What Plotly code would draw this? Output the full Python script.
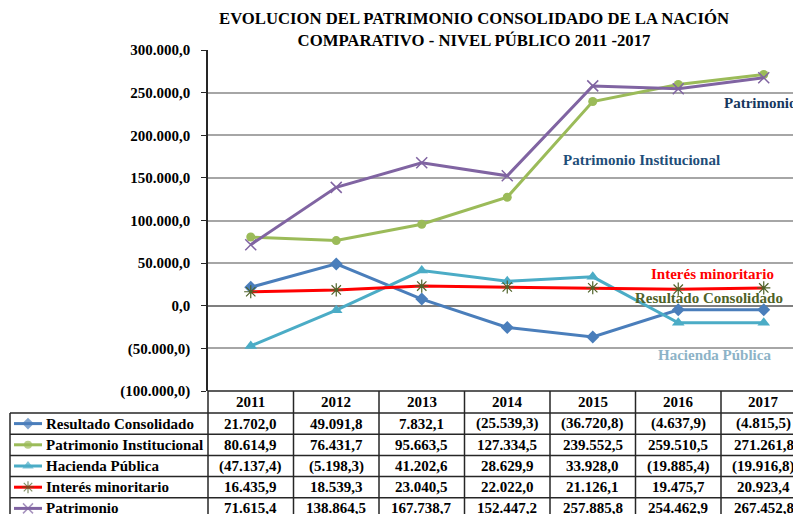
import plotly.graph_objects as go

years = ["2011", "2012", "2013", "2014", "2015", "2016", "2017"]
resultado = [21702.0, 49091.8, 7832.1, -25539.3, -36720.8, -4637.9, -4815.5]
institucional = [80614.9, 76431.7, 95663.5, 127334.5, 239552.5, 259510.5, 271261.8]
hacienda = [-47137.4, -5198.3, 41202.6, 28629.9, 33928.0, -19885.4, -19916.8]
interes = [16435.9, 18539.3, 23040.5, 22022.0, 21126.1, 19475.7, 20923.4]
patrimonio = [71615.4, 138864.5, 167738.7, 152447.2, 257885.8, 254462.9, 267452.8]
series_names = ["Resultado Consolidado", "Patrimonio Institucional", "Hacienda Pública",
                "Interés minoritario", "Patrimonio"]
y_ticks = [-100000, -50000, 0, 50000, 100000, 150000, 200000, 250000, 300000]

def fmt(v):
    s = f"{abs(v):,.1f}".replace(",", "#").replace(".", ",").replace("#", ".")
    return f"({s})" if v < 0 else s

# page geometry (the page body has an 8px margin; figure fills the rest of the 801x514 view)
VW, VH, OFF = 801, 514, 8
FW, FH = VW - OFF, VH - OFF
L, T, B = 208, 50, 391          # plot area in view pixels
COLW = 85.5
FONT = "Liberation Serif, Times New Roman, serif"

styles = [
    dict(color="#4A7EBB", symbol="diamond", size=10, mc="#4A7EBB", lw=0),
    dict(color="#9BBB59", symbol="circle", size=9, mc="#9BBB59", lw=0),
    dict(color="#4BACC6", symbol="triangle-up", size=11, mc="#4BACC6", lw=0),
    dict(color="#FF0000", symbol="asterisk", size=11, mc="#4F6228", lw=1.2),
    dict(color="#8064A2", symbol="x-thin", size=11, mc="#8064A2", lw=1.5),
]
data = [resultado, institucional, hacienda, interes, patrimonio]
xs = list(range(len(years)))

fig = go.Figure()
for name, vals, st in zip(series_names, data, styles):
    fig.add_trace(go.Scatter(
        x=xs, y=vals, name=name, mode="lines+markers",
        line=dict(color=st["color"], width=3),
        marker=dict(symbol=st["symbol"], size=st["size"], color=st["mc"],
                    line=dict(color=st["mc"], width=st["lw"])),
        xaxis="x", yaxis="y", showlegend=False, cliponaxis=False))

row_tops = [413, 434.2, 455.4, 476.6, 497.8]
row_h = 21.2
shapes = []
line_col = "#262626"
shapes.append(dict(type="line", xref="x2", yref="y2", x0=L, x1=VW, y0=B, y1=B,
                   line=dict(color=line_col, width=1.5)))
for rt in row_tops:
    shapes.append(dict(type="line", xref="x2", yref="y2", x0=10, x1=VW, y0=rt, y1=rt,
                       line=dict(color=line_col, width=1.5)))
shapes.append(dict(type="line", xref="x2", yref="y2", x0=10, x1=10, y0=row_tops[0], y1=VH,
                   line=dict(color=line_col, width=1.5)))
for i in range(len(years) + 1):
    xx = L + i * COLW
    if xx <= VW:
        shapes.append(dict(type="line", xref="x2", yref="y2", x0=xx, x1=xx, y0=B, y1=VH,
                           line=dict(color=line_col, width=1.5)))

annotations = []
tf = dict(family=FONT, size=15, color="black", weight="bold")
for i, yr in enumerate(years):
    annotations.append(dict(xref="x2", yref="y2", x=L + (i + 0.5) * COLW, y=(B + row_tops[0]) / 2,
                            text=yr, showarrow=False, font=tf, xanchor="center", yanchor="middle"))
for r, (name, vals, st) in enumerate(zip(series_names, data, styles)):
    yc = row_tops[r] + row_h / 2
    annotations.append(dict(xref="x2", yref="y2", x=44, y=yc, text=name, showarrow=False,
                            font=tf, xanchor="left", yanchor="middle"))
    for i, v in enumerate(vals):
        annotations.append(dict(xref="x2", yref="y2", x=L + (i + 0.5) * COLW, y=yc, text=fmt(v),
                                showarrow=False, font=tf, xanchor="center", yanchor="middle"))
    fig.add_trace(go.Scatter(
        x=[14, 28, 42], y=[yc, yc, yc], mode="lines+markers", xaxis="x2", yaxis="y2",
        line=dict(color=st["color"], width=3),
        marker=dict(symbol=st["symbol"], size=[0, st["size"] - 1, 0], color=st["mc"],
                    line=dict(color=st["mc"], width=st["lw"])),
        showlegend=False, hoverinfo="skip", cliponaxis=False))

labels = [
    ("Patrimonio", 760, 103, "#17375E"),
    ("Patrimonio Institucional", 641, 160, "#1F4E79"),
    ("Interés minoritario", 712, 274, "#FF0000"),
    ("Resultado Consolidado", 709, 298, "#4F6228"),
    ("Hacienda Pública", 714, 355, "#8DB3C7"),
]
for txt, x, y, c in labels:
    annotations.append(dict(xref="x2", yref="y2", x=x, y=y, text=txt, showarrow=False,
                            font=dict(family=FONT, size=15, color=c, weight="bold"),
                            xanchor="center", yanchor="middle"))

annotations.append(dict(xref="x2", yref="y2", x=474, y=29,
                        text="EVOLUCION DEL PATRIMONIO CONSOLIDADO DE LA NACIÓN<br>COMPARATIVO - NIVEL PÚBLICO 2011 -2017",
                        showarrow=False, font=dict(family=FONT, size=16.7, color="black", weight="bold"),
                        xanchor="center", yanchor="middle"))

fig.update_layout(
    width=FW, height=FH, autosize=False,
    margin=dict(l=0, r=0, t=0, b=0, pad=0, autoexpand=False),
    paper_bgcolor="white", plot_bgcolor="rgba(0,0,0,0)",
    xaxis=dict(domain=[(L - OFF) / FW, 1], range=[-0.5, -0.5 + (VW - L) / COLW], showticklabels=False,
               showgrid=False, zeroline=False, showline=False, ticks="", automargin=False),
    yaxis=dict(domain=[(VH - B) / FH, (VH - T) / FH], range=[-100000, 300000],
               tickvals=y_ticks, ticktext=[fmt(v) for v in y_ticks],
               tickfont=dict(family=FONT, size=15, color="black", weight="bold"),
               showgrid=True, gridcolor="#A6A6A6", gridwidth=1.5,
               zeroline=True, zerolinecolor="#7F7F7F", zerolinewidth=2,
               showline=True, linecolor="#262626", linewidth=1.5,
               ticks="outside", ticklen=5, tickcolor="#262626", ticklabelstandoff=8,
               anchor="x", automargin=False),
    xaxis2=dict(domain=[0, 1], range=[OFF, VW], visible=False, anchor="y2", automargin=False),
    yaxis2=dict(domain=[0, 1], range=[VH, OFF], visible=False, anchor="x2", automargin=False),
    shapes=shapes, annotations=annotations,
)

fig.write_html("out.html")
